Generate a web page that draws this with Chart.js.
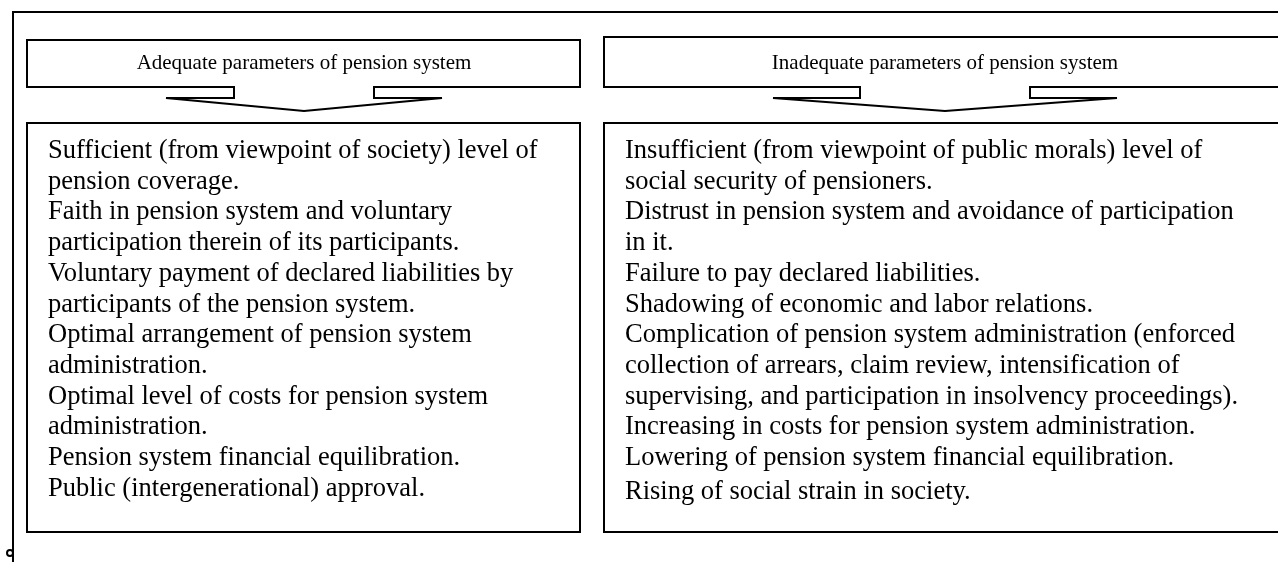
<!DOCTYPE html>
<html>
<head>
<meta charset="utf-8">
<script src="https://cdn.jsdelivr.net/npm/chart.js@4/dist/chart.umd.min.js"></script>
<style>
html,body{margin:0;padding:0;background:#fff;}
#c{display:block;}
</style>
</head>
<body>
<canvas id="c" width="1278" height="563"></canvas>
<script>
// ---- content ----
const headers = ["Adequate parameters of pension system", "Inadequate parameters of pension system"];
const leftLines = [
  "Sufficient (from viewpoint of society) level of",
  "pension coverage.",
  "Faith in pension system and voluntary",
  "participation therein of its participants.",
  "Voluntary payment of declared liabilities by",
  "participants of the pension system.",
  "Optimal arrangement of pension system",
  "administration.",
  "Optimal level of costs for pension system",
  "administration.",
  "Pension system financial equilibration.",
  "Public (intergenerational) approval."
];
const rightLines = [
  "Insufficient (from viewpoint of public morals) level of",
  "social security of pensioners.",
  "Distrust in pension system and avoidance of participation",
  "in it.",
  "Failure to pay declared liabilities.",
  "Shadowing of economic and labor relations.",
  "Complication of pension system administration (enforced",
  "collection of arrears, claim review, intensification of",
  "supervising, and participation in insolvency proceedings).",
  "Increasing in costs for pension system administration.",
  "Lowering of pension system financial equilibration.",
  "Rising of social strain in society."
];

// ---- layout (diagram units = canvas pixels) ----
const layout = {
  frame: {x: 13, y: 12, bottom: 562},
  columns: [
    {hx0: 27, hy0: 40, hx1: 580, hy1: 87, cx: 304, tab: 70, tip: 138, tabY: 98, apexY: 111,
     bx0: 27, by0: 123, bx1: 580, by1: 532, textX: 48, lastExtra: 0},
    {hx0: 604, hy0: 37, hx1: 1292, hy1: 87, cx: 945, tab: 85, tip: 172, tabY: 98, apexY: 111,
     bx0: 604, by0: 123, bx1: 1292, by1: 532, textX: 625, lastExtra: 3}
  ],
  firstBaseline: 158,
  lineStep: 30.7,
  headerBaseline: 69
};
const bodyFont = '26.5px "Liberation Serif", "Times New Roman", serif';
const headFont = '21px "Liberation Serif", "Times New Roman", serif';

const diagramPlugin = {
  id: 'diagram',
  afterDraw(chart) {
    const ctx = chart.ctx;
    const X = v => chart.scales.x.getPixelForValue(v);
    const Y = v => chart.scales.y.getPixelForValue(v);
    ctx.save();
    ctx.strokeStyle = '#000';
    ctx.fillStyle = '#000';
    ctx.lineWidth = 2;
    ctx.lineJoin = 'miter';

    // outer frame (top + left only)
    const f = layout.frame;
    ctx.beginPath();
    ctx.moveTo(X(1300), Y(f.y));
    ctx.lineTo(X(f.x), Y(f.y));
    ctx.lineTo(X(f.x), Y(f.bottom));
    ctx.stroke();
    // small hook near the bottom of the frame line
    ctx.beginPath();
    ctx.arc(X(f.x - 3), Y(f.bottom - 9), 3, 0, Math.PI * 2);
    ctx.stroke();

    const cols = [
      {c: layout.columns[0], head: headers[0], lines: leftLines},
      {c: layout.columns[1], head: headers[1], lines: rightLines}
    ];
    cols.forEach(({c, head, lines}) => {
      // header callout with down arrow
      ctx.beginPath();
      ctx.moveTo(X(c.hx0), Y(c.hy0));
      ctx.lineTo(X(c.hx1), Y(c.hy0));
      ctx.lineTo(X(c.hx1), Y(c.hy1));
      ctx.lineTo(X(c.cx + c.tab), Y(c.hy1));
      ctx.lineTo(X(c.cx + c.tab), Y(c.tabY));
      ctx.lineTo(X(c.cx + c.tip), Y(c.tabY));
      ctx.lineTo(X(c.cx), Y(c.apexY));
      ctx.lineTo(X(c.cx - c.tip), Y(c.tabY));
      ctx.lineTo(X(c.cx - c.tab), Y(c.tabY));
      ctx.lineTo(X(c.cx - c.tab), Y(c.hy1));
      ctx.lineTo(X(c.hx0), Y(c.hy1));
      ctx.closePath();
      ctx.stroke();

      ctx.font = headFont;
      ctx.textAlign = 'center';
      ctx.textBaseline = 'alphabetic';
      ctx.fillText(head, X(c.cx), Y(layout.headerBaseline));

      // body box
      ctx.beginPath();
      ctx.rect(X(c.bx0), Y(c.by0), X(c.bx1) - X(c.bx0), Y(c.by1) - Y(c.by0));
      ctx.stroke();

      ctx.font = bodyFont;
      ctx.textAlign = 'left';
      lines.forEach((t, i) => {
        const extra = (i === lines.length - 1) ? c.lastExtra : 0;
        ctx.fillText(t, X(c.textX), Y(layout.firstBaseline + i * layout.lineStep + extra));
      });
    });
    ctx.restore();
  }
};

new Chart(document.getElementById('c'), {
  type: 'scatter',
  data: {datasets: [{data: [], pointRadius: 0}]},
  options: {
    responsive: false,
    animation: false,
    layout: {padding: 0},
    plugins: {legend: {display: false}, tooltip: {enabled: false}},
    scales: {
      x: {type: 'linear', min: 0, max: 1278, display: false},
      y: {type: 'linear', min: 0, max: 563, reverse: true, display: false}
    }
  },
  plugins: [diagramPlugin]
});
</script>
</body>
</html>
